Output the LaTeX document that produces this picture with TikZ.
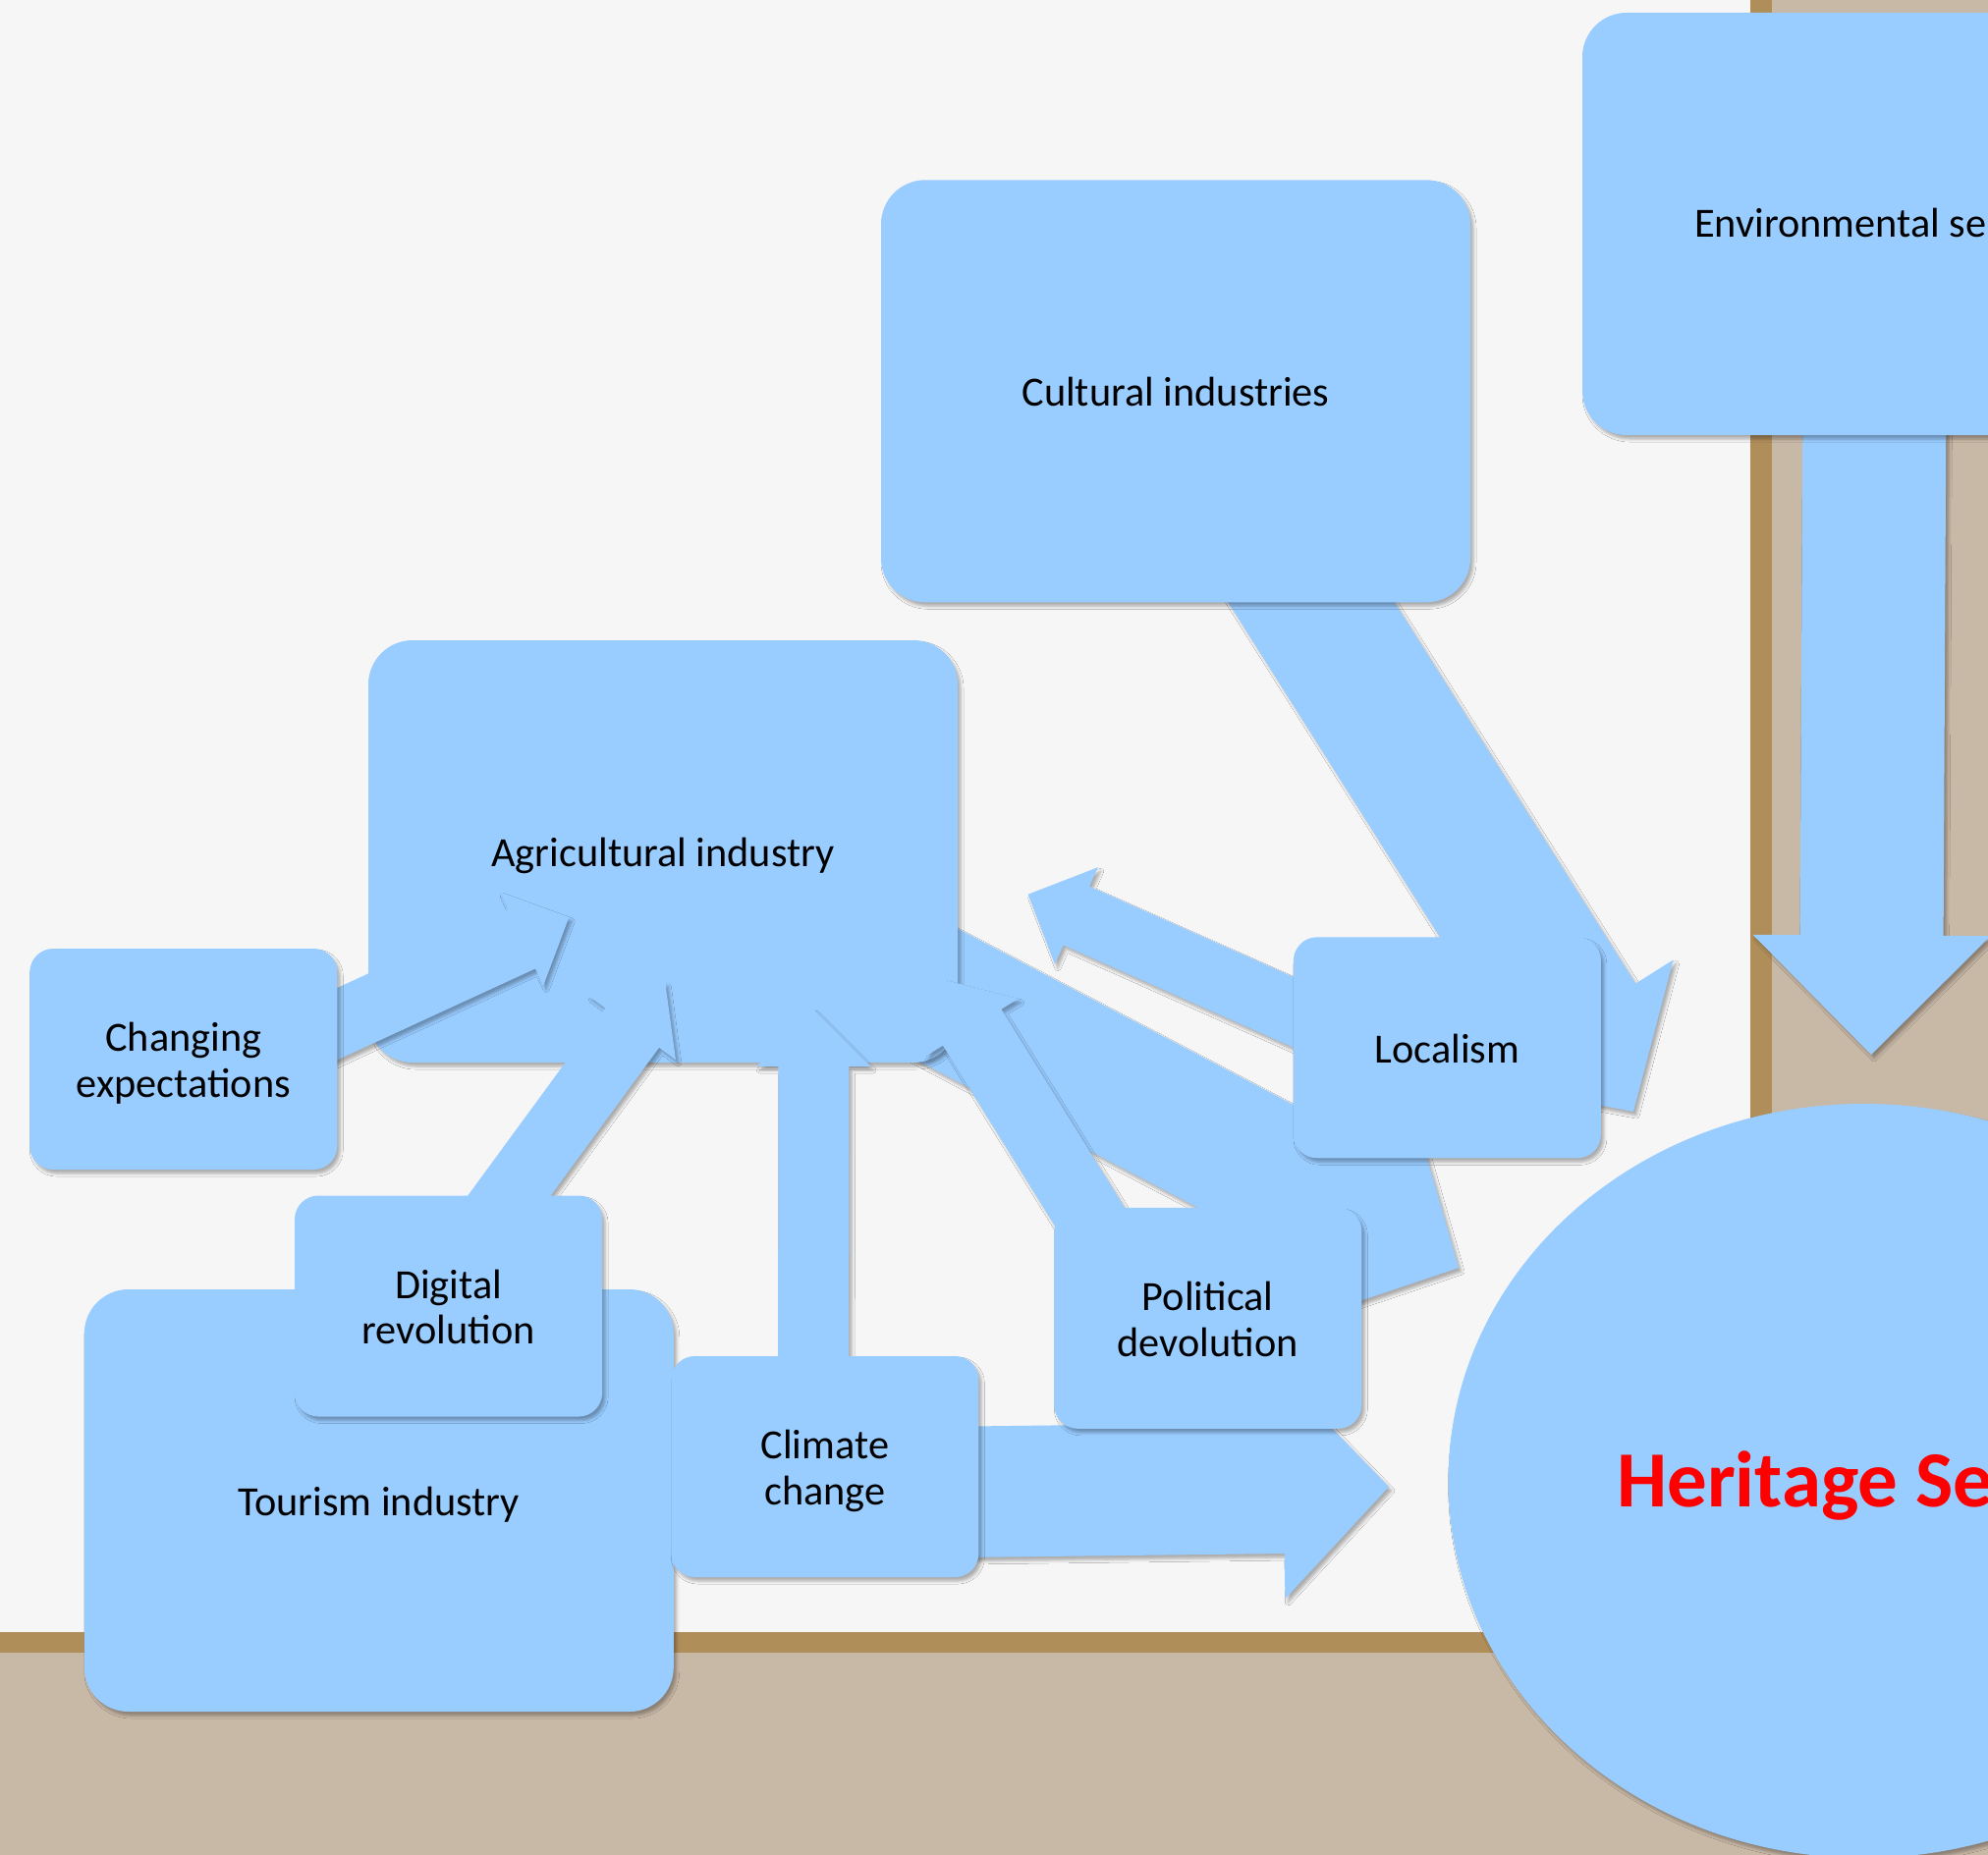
\documentclass[tikz,border=0pt]{standalone}
\usepackage{fontspec}
\setmainfont{Carlito}
\usetikzlibrary{calc,shapes.geometric,shadows.blur}

\definecolor{wall}{RGB}{246,246,246}
\definecolor{floortan}{RGB}{200,184,166}
\definecolor{trim}{RGB}{176,142,90}
\definecolor{boxblue}{RGB}{153,204,255}

\newcommand\lblfont{\fontsize{42.3pt}{46.5pt}\selectfont}
\newcommand\bigredfont{\fontsize{81pt}{90pt}\selectfont\bfseries}
% fixed ascent for the first line of a box text
\newcommand\topstrut{\rule{0pt}{42pt}}

% Block arrow: #1 tail, #2 tip, #3 shaft half width, #4 head half width, #5 head length (pt)
\newcommand\blockarrow[5]{%
  \coordinate (ba-h) at ($(#2)!#5pt!(#1)$);
  \fill[arrowbody]
    ($(#1)!#3pt!90:(#2)$) --
    ($(ba-h)!#3pt!90:(#2)$) --
    ($(ba-h)!#4pt!90:(#2)$) --
    (#2) --
    ($(ba-h)!#4pt!-90:(#2)$) --
    ($(ba-h)!#3pt!-90:(#2)$) --
    ($(#1)!#3pt!-90:(#2)$) -- cycle;
}

\begin{document}
\begin{tikzpicture}[x=1pt,y=-1pt,
  softshadow/.style={blur shadow={shadow xshift=3pt, shadow yshift=-4pt,
      shadow blur radius=3pt, shadow opacity=30}},
  arrowbody/.style={fill=boxblue, softshadow},
  smallbox/.style={rectangle, fill=boxblue, rounded corners=24pt,
      minimum width=313pt, minimum height=225pt, inner sep=0pt,
      align=center, font=\lblfont, softshadow,
      execute at begin node={\topstrut},
      execute at end node={\rule[-11pt]{0pt}{11pt}}},
  bigbox/.style={smallbox, rounded corners=45pt,
      minimum width=600pt, minimum height=430pt},
  label/.style={inner sep=0pt, font=\lblfont}]

\useasboundingbox (0,0) rectangle (2024,1889);
\clip (0,0) rectangle (2024,1889);

% room: wall, floor with skirting, door on the right
\fill[wall] (0,0) rectangle (2024,1889);
\fill[trim] (0,1662) rectangle (2024,1683);
\fill[floortan] (0,1683) rectangle (2024,1889);
\fill[floortan] (1782,0) rectangle (2024,1683);
\fill[trim] (1782,0) rectangle (1804,1683);

% tail and tip points of the connectors
\coordinate (envTail) at (1909,300);
\coordinate (envTip) at (1905,1074);
\coordinate (culTail) at (1228,444);
\coordinate (culTip) at (1663,1132);
\coordinate (agrTail) at (850,958);
\coordinate (agrTip) at (1485,1291);
\coordinate (chgTail) at (300,1062.6);
\coordinate (chgTip) at (579.3,934);
\coordinate (digTail) at (458,1300);
\coordinate (digTip) at (677.3,1000.7);
\coordinate (cliTail) at (828.2,1440);
\coordinate (cliTip) at (828.3,1028.3);
\coordinate (polTail) at (1166,1330);
\coordinate (polTip) at (959.3,997.3);
\coordinate (locTail) at (1450,1090);
\coordinate (locTip) at (1046.7,910.7);
\coordinate (clrTail) at (840,1521);
\coordinate (clrTip) at (1414,1514);

% wide arrows lying under the large boxes
\blockarrow{envTail}{envTip}{73}{121}{121.5}
\blockarrow{culTail}{culTip}{71.5}{117}{109}
\blockarrow{agrTail}{agrTip}{69}{115}{110}

% large boxes
\node[bigbox] (env) at (1911,228) {};
\node[label, anchor=base west] (envlbl) at (1725,242) {Environmental se};
\node[bigbox] (cul) at (1197,398.3) {Cultural industries};
\node[bigbox] (agr) at (675,867) {Agricultural industry};

% narrow arrows
\blockarrow{chgTail}{chgTip}{33.3}{52.5}{53}
\blockarrow{digTail}{digTip}{34}{55}{57}
\blockarrow{cliTail}{cliTip}{36}{58}{57.7}
\blockarrow{polTail}{polTip}{35}{55.5}{57.6}
\blockarrow{locTail}{locTip}{32.8}{54}{53.8}
\blockarrow{clrTail}{clrTip}{66.7}{112.8}{107}

% heritage sector
\node[ellipse, fill=boxblue, minimum width=846pt, minimum height=768pt,
      inner sep=0pt, softshadow] (her) at (1897.5,1508) {};
\node[inner sep=0pt, anchor=base west, font=\bigredfont, text=red]
      (herlbl) at (1646,1534) {Heritage Se};

% small boxes
\node[bigbox] (tou) at (385.8,1528) {Tourism industry};
\node[smallbox] (dig) at (456.6,1330) {\topstrut Digital\\revolution};
\node[smallbox] (chg) at (186.8,1078.5) {\topstrut Changing\\expectations};
\node[smallbox] (cli) at (839.9,1493.5) {\topstrut Climate\\change};
\node[smallbox] (pol) at (1229.8,1342.3) {\topstrut Political\\devolution};
\node[smallbox] (loc) at (1473.4,1066.8) {Localism};

\end{tikzpicture}
\end{document}
